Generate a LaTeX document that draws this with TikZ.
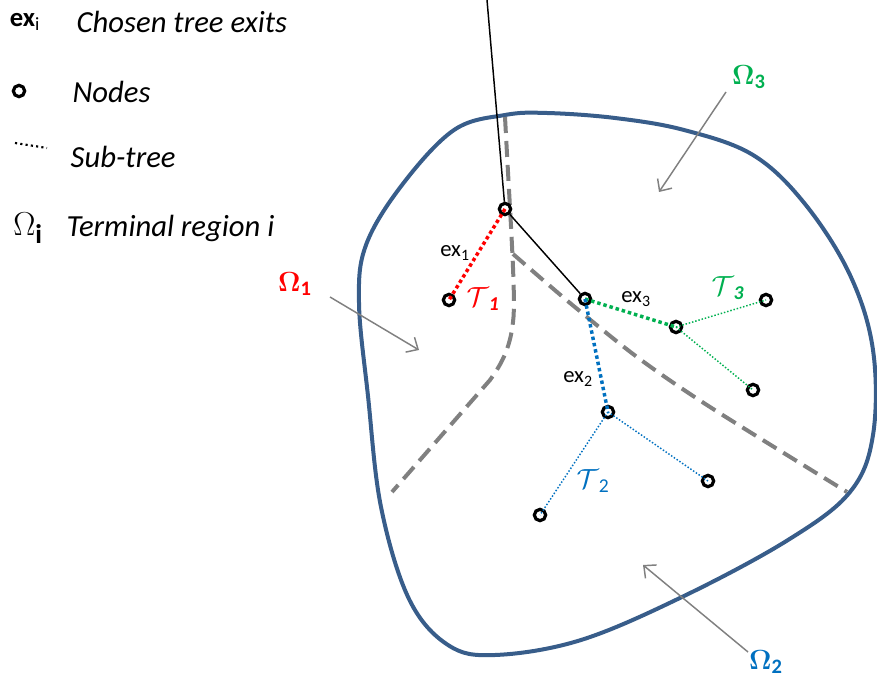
\documentclass[tikz,border=0pt]{standalone}
\usepackage[no-math]{fontspec}
\setmainfont{Carlito}
\usepackage{tikz}
\usetikzlibrary{arrows.meta}
\definecolor{regionblue}{HTML}{385D8A}
\definecolor{exred}{HTML}{FF0000}
\definecolor{exgreen}{HTML}{00B050}
\definecolor{exblue}{HTML}{0070C0}
\definecolor{splitgray}{HTML}{808080}

\begin{document}
\begin{tikzpicture}[x=0.75pt,y=-0.75pt,
    vertex/.style={circle,draw=black,line width=2.4pt,minimum size=8.5pt,inner sep=0pt},
    exitline/.style={line width=2.6pt,dash pattern=on 2.6pt off 2.2pt},
    subline/.style={line width=1.1pt,dash pattern=on 1.1pt off 1.4pt},
    splitline/.style={draw=splitgray,line width=3pt,dash pattern=on 12pt off 6pt},
    pointer/.style={draw=splitgray,line width=1.1pt,-{Straight Barb[length=7pt,width=13pt]}},
    exlabel/.style={font=\fontsize{17}{19}\selectfont},
    treelabel/.style={font=\fontsize{21}{23}\selectfont},
    regionlabel/.style={font=\fontsize{22}{24}\selectfont},
    legend/.style={font=\fontsize{23}{26}\selectfont\itshape,anchor=west}]
  \useasboundingbox (0,0) rectangle (877,680);

  % legend
  \node[font=\fontsize{20}{22}\selectfont] (legex) at (25,22) {\textbf{ex}\textsubscript{i}};
  \node[legend] (legextext) at (72,22) {Chosen tree exits};
  \node[vertex] (legnode) at (19,91) {};
  \node[legend] (legnodetext) at (68,92) {Nodes};
  \coordinate (legdotA) at (15,143);
  \coordinate (legdotB) at (47,148);
  \draw[line width=1.6pt,dash pattern=on 1.6pt off 2.4pt] (legdotA) -- (legdotB);
  \node[legend] (legsubtext) at (66,157) {Sub-tree};
  \node[font=\fontsize{29}{30}\selectfont] (legomega) at (28,228) {$\Omega$\textsubscript{\textbf{i}}};
  \node[legend] (legomegatext) at (62,228) {Terminal region i};

  % terminal region
  \draw[regionblue,line width=3pt] plot[smooth cycle,tension=0.6] coordinates {
    (505,115) (547,113) (615,118) (684,130) (753,155) (805,204) (850,275)
    (873,350) (873,435) (850,492) (788,540) (684,596) (581,640) (495,655)
    (448,645) (409,599) (381,507) (368,396) (359,303) (366,245) (402,185) (454,130)};

  % sub-region boundaries
  \draw[splitline] (505,117) .. controls (511,230) and (516,300) .. (513,322)
    .. controls (510,350) and (500,366) .. (490,380) -- (392,492);
  \draw[splitline] plot[smooth,tension=0.5] coordinates {
    (513,254) (570,303) (637,357) (710,407) (847,492)};

  % tree
  \coordinate (root) at (487,0);
  \node[vertex] (n0) at (505,209) {};
  \node[vertex] (n1) at (449,300) {};
  \node[vertex] (nb) at (585,299) {};
  \node[vertex] (n3) at (676,327) {};
  \node[vertex] (n3a) at (766,300) {};
  \node[vertex] (n3b) at (753,390) {};
  \node[vertex] (n2) at (608,412) {};
  \node[vertex] (n2a) at (540,515) {};
  \node[vertex] (n2b) at (708,481) {};

  \draw[line width=1.1pt] (root) -- (n0) -- (nb);
  \draw[exitline,exred] (n0.center) -- (n1.center);
  \draw[exitline,exgreen] (nb.center) -- (n3.center);
  \draw[exitline,exblue] (nb.center) -- (n2.center);
  \draw[subline,exgreen] (n3.center) -- (n3a.center);
  \draw[subline,exgreen] (n3.center) -- (n3b.center);
  \draw[subline,exblue] (n2.center) -- (n2a.center);
  \draw[subline,exblue] (n2.center) -- (n2b.center);

  \node[exlabel] (ex1) at (455,253) {ex\textsubscript{1}};
  \node[exlabel] (ex3) at (636,299) {ex\textsubscript{3}};
  \node[exlabel] (ex2) at (578,379) {ex\textsubscript{2}};
  \node[treelabel,exred] (t1) at (483,299) {$\mathcal{T}$\textsubscript{\textbf{\textit{1}}}};
  \node[treelabel,exgreen] (t3) at (728,288) {$\mathcal{T}$\textsubscript{\textbf{\textit{3}}}};
  \node[treelabel,exblue] (t2) at (593,481) {$\mathcal{T}$\textsubscript{2}};

  % region labels
  \node[regionlabel,exred] (om1) at (295,284) {$\mathbf{\Omega}$\textsubscript{\textbf{1}}};
  \node[regionlabel,exgreen] (om3) at (749,77) {$\mathbf{\Omega}$\textsubscript{\textbf{3}}};
  \node[regionlabel,exblue] (om2) at (766,662) {$\mathbf{\Omega}$\textsubscript{\textbf{2}}};
  \coordinate (p1s) at (330,297);
  \coordinate (p1e) at (419,350);
  \coordinate (p3s) at (726,92);
  \coordinate (p3e) at (659,192);
  \coordinate (p2s) at (748,652);
  \coordinate (p2e) at (643,565);
  \draw[pointer] (p1s) -- (p1e);
  \draw[pointer] (p3s) -- (p3e);
  \draw[pointer] (p2s) -- (p2e);
\end{tikzpicture}
\end{document}
